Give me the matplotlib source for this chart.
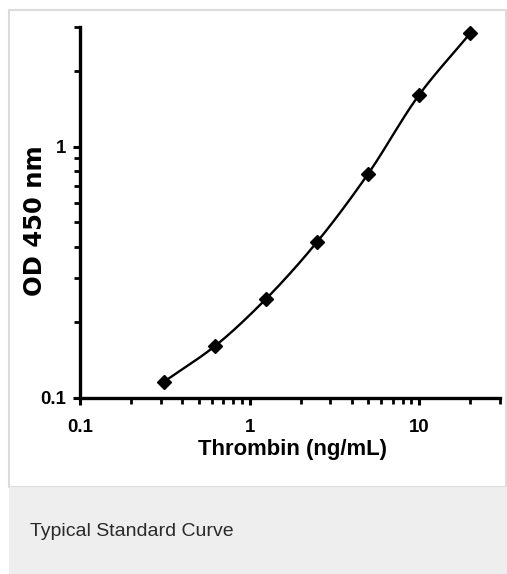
#!/usr/bin/env python3
"""Typical standard curve - Thrombin ELISA"""
import numpy as np
import matplotlib
matplotlib.use("Agg")
import matplotlib.pyplot as plt
import matplotlib.patches as mpatches
from matplotlib import font_manager
from matplotlib.ticker import LogLocator, FixedLocator, NullFormatter

# Standard curve data
conc = [0.3125, 0.625, 1.25, 2.5, 5, 10, 20]          # ng/mL
od450 = [0.116, 0.161, 0.248, 0.418, 0.78, 1.61, 2.83]  # OD 450 nm

x_ticks = [0.1, 1, 10]
x_tick_labels = ['0.1', '1', '10']
y_ticks = [0.1, 1]
y_tick_labels = ['0.1', '1']

# narrow font if there is one, else plain Liberation Sans a bit smaller
names = {f.name for f in font_manager.fontManager.ttflist}
narrow, shrink = 'Liberation Sans', 0.84
for cand in ['Liberation Sans Narrow', 'DejaVu Sans Condensed']:
    if cand in names:
        narrow, shrink = cand, 1.0
        break


def smooth_curve(xs, ys, n=300):
    """monotone cubic (pchip) through the points in log-log space"""
    lx, ly = np.log10(xs), np.log10(ys)
    h = np.diff(lx)
    delta = np.diff(ly) / h
    m = np.zeros_like(lx)
    for i in range(1, len(lx) - 1):
        if delta[i - 1] * delta[i] > 0:
            w1 = 2 * h[i] + h[i - 1]
            w2 = h[i] + 2 * h[i - 1]
            m[i] = (w1 + w2) / (w1 / delta[i - 1] + w2 / delta[i])
    m[0] = delta[0]
    m[-1] = delta[-1]
    xx = np.linspace(lx[0], lx[-1], n)
    idx = np.clip(np.searchsorted(lx, xx, side='right') - 1, 0, len(lx) - 2)
    t = (xx - lx[idx]) / h[idx]
    h00 = 2 * t ** 3 - 3 * t ** 2 + 1
    h10 = t ** 3 - 2 * t ** 2 + t
    h01 = -2 * t ** 3 + 3 * t ** 2
    h11 = t ** 3 - t ** 2
    yy = (h00 * ly[idx] + h10 * h[idx] * m[idx]
          + h01 * ly[idx + 1] + h11 * h[idx] * m[idx + 1])
    return 10 ** xx, 10 ** yy


fig = plt.figure(figsize=(5.07, 5.74), dpi=100)

# panel frame + caption band (behind the axes)
fig.patches.append(mpatches.Rectangle((9 / 507, 87 / 574), 497 / 507, 477 / 574,
                                      transform=fig.transFigure, facecolor='white',
                                      edgecolor='#dcdcdc', linewidth=1.5, zorder=-2))
fig.patches.append(mpatches.Rectangle((9 / 507, 0), 498 / 507, 87 / 574,
                                      transform=fig.transFigure, facecolor='#edeeed',
                                      edgecolor='none', zorder=-2))
fig.text(30 / 507, 1 - 531 / 574, 'Typical Standard Curve', fontsize=14,
         family='Liberation Sans', color='#2a2a2a', va='center', ha='left')

ax = fig.add_axes([80 / 507, 1 - 398 / 574, 420 / 507, 371 / 574])
ax.patch.set_alpha(0)
ax.set_xscale('log')
ax.set_yscale('log')
ax.set_xlim(0.1, 30)
ax.set_ylim(0.1, 3)

cx, cy = smooth_curve(conc, od450)
ax.plot(cx, cy, color='black', linewidth=1.7, zorder=3)
ax.plot(conc, od450, linestyle='none', marker='D', markersize=7,
        color='black', zorder=4, clip_on=False)

for side in ['top', 'right']:
    ax.spines[side].set_visible(False)
for side in ['left', 'bottom']:
    ax.spines[side].set_linewidth(2.4)

tick_size = 16 * shrink
ax.xaxis.set_major_locator(FixedLocator(x_ticks))
ax.yaxis.set_major_locator(FixedLocator(y_ticks))
ax.set_xticklabels(x_tick_labels, family=narrow, fontsize=tick_size, fontweight='bold')
ax.set_yticklabels(y_tick_labels, family=narrow, fontsize=tick_size, fontweight='bold')
ax.xaxis.set_minor_locator(LogLocator(base=10, subs=np.arange(2, 10)))
ax.yaxis.set_minor_locator(LogLocator(base=10, subs=np.arange(2, 10)))
ax.xaxis.set_minor_formatter(NullFormatter())
ax.yaxis.set_minor_formatter(NullFormatter())
ax.tick_params(which='major', direction='out', length=5, width=2.2)
ax.tick_params(which='minor', direction='out', length=4, width=2.0)
ax.tick_params(axis='x', which='major', pad=10)
ax.tick_params(axis='y', which='major', pad=5)

ax.set_xlabel('Thrombin (ng/mL)', fontsize=19 * shrink, fontweight='bold', family=narrow)
ax.set_ylabel('OD 450 nm', fontsize=17.5, fontweight='bold', family='DejaVu Sans')
ax.xaxis.set_label_coords(293 / 507, 1 - 450 / 574, transform=fig.transFigure)
ax.yaxis.set_label_coords(35 / 507, 1 - 221 / 574, transform=fig.transFigure)
ax.xaxis.label.set_va('center')
ax.yaxis.label.set_va('center')

plt.savefig('out.png', dpi=100)
plt.close()
